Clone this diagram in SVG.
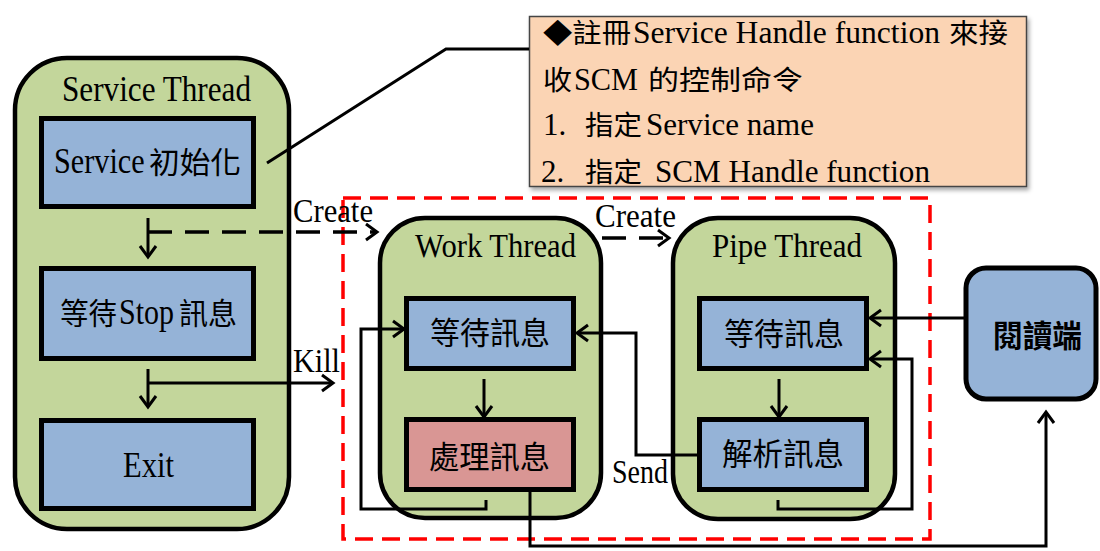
<svg xmlns="http://www.w3.org/2000/svg" width="1100" height="551" viewBox="0 0 1100 551">
  <style>
    .thread { fill: #C3D69B; stroke: #000; stroke-width: 4.5; }
    .box { fill: #95B3D7; stroke: #000; stroke-width: 5; }
    .proc { fill: #D99694; }
    .t { font-family: "Liberation Serif", serif; fill: #000; }
    .cjk { font-family: "Noto Sans CJK TC", "Noto Sans CJK SC", sans-serif; fill: #000; }
    .conn { fill: none; stroke: #000; stroke-width: 3; }
    .dash { stroke-dasharray: 24 13; stroke-width: 3.5; }
    .region { fill: none; stroke: #FF0000; stroke-width: 3.5; stroke-dasharray: 18 9; }
  </style>
  <defs>
    <marker id="arrow" markerUnits="userSpaceOnUse" markerWidth="20" markerHeight="20" refX="14" refY="10" orient="auto">
      <path d="M3,2 L14,10 L3,18" fill="none" stroke="#000" stroke-width="3"/>
    </marker>
    <filter id="shadow" x="-5%" y="-5%" width="110%" height="115%">
      <feDropShadow dx="2" dy="3" stdDeviation="2" flood-color="#000" flood-opacity="0.35"/>
    </filter>
  </defs>

  <!-- dashed boundary around the worker threads -->
  <rect class="region" x="343" y="198" width="587" height="341"/>

  <g id="service-thread">
    <rect class="thread" x="15" y="58" width="274" height="471" rx="52"/>
    <text class="t" x="62" y="101" font-size="36" textLength="189" lengthAdjust="spacingAndGlyphs">Service Thread</text>
  </g>
  <g id="service-init">
    <rect class="box" x="41.5" y="118.5" width="212" height="88"/>
    <text class="t" transform="translate(54,173) scale(0.84,1)" font-size="36">Service</text>
    <text class="cjk" x="149" y="173" font-size="30" textLength="92" lengthAdjust="spacingAndGlyphs">初始化</text>
  </g>
  <g id="service-wait-stop">
    <rect class="box" x="41.5" y="268.5" width="212" height="90"/>
    <text class="cjk" x="60" y="324" font-size="30" textLength="57" lengthAdjust="spacingAndGlyphs">等待</text>
    <text class="t" x="119" y="324" font-size="36" textLength="55" lengthAdjust="spacingAndGlyphs">Stop</text>
    <text class="cjk" x="179" y="324" font-size="30" textLength="58" lengthAdjust="spacingAndGlyphs">訊息</text>
  </g>
  <g id="service-exit">
    <rect class="box" x="41.5" y="420.5" width="212" height="88"/>
    <text class="t" x="123" y="477" font-size="36" textLength="51" lengthAdjust="spacingAndGlyphs">Exit</text>
  </g>

  <g id="work-thread">
    <rect class="thread" x="380" y="218" width="221" height="300" rx="45"/>
    <text class="t" x="415" y="257" font-size="34" textLength="161" lengthAdjust="spacingAndGlyphs">Work Thread</text>
  </g>
  <g id="work-wait">
    <rect class="box" x="406.5" y="298.5" width="167" height="70"/>
    <text class="cjk" x="430" y="344" font-size="31" textLength="120" lengthAdjust="spacingAndGlyphs">等待訊息</text>
  </g>
  <g id="work-process">
    <rect class="box proc" x="406.5" y="419.5" width="167" height="70"/>
    <text class="cjk" x="429" y="468" font-size="31" textLength="121" lengthAdjust="spacingAndGlyphs">處理訊息</text>
  </g>

  <g id="pipe-thread">
    <rect class="thread" x="673" y="218" width="222" height="301" rx="45"/>
    <text class="t" x="712" y="257" font-size="34" textLength="150" lengthAdjust="spacingAndGlyphs">Pipe Thread</text>
  </g>
  <g id="pipe-wait">
    <rect class="box" x="699.5" y="298.5" width="167" height="70"/>
    <text class="cjk" x="724" y="345" font-size="31" textLength="120" lengthAdjust="spacingAndGlyphs">等待訊息</text>
  </g>
  <g id="pipe-parse">
    <rect class="box" x="699.5" y="419.5" width="167" height="70"/>
    <text class="cjk" x="722" y="465" font-size="31" textLength="122" lengthAdjust="spacingAndGlyphs">解析訊息</text>
  </g>

  <g id="reader">
    <rect class="box" x="966" y="268" width="130" height="131" rx="20"/>
    <text class="cjk" x="993" y="347" font-size="31" font-weight="bold" textLength="89" lengthAdjust="spacingAndGlyphs">閱讀端</text>
  </g>

  <g id="note">
    <rect x="529.5" y="16.5" width="497" height="170" fill="#FBD4B4" stroke="#444" stroke-width="1.5" filter="url(#shadow)"/>
    <text class="cjk" x="543" y="43" font-size="27" textLength="88" lengthAdjust="spacingAndGlyphs">◆註冊</text>
    <text class="t" x="633" y="43" font-size="31" textLength="307" lengthAdjust="spacingAndGlyphs">Service Handle function</text>
    <text class="cjk" x="949" y="43" font-size="27" textLength="59" lengthAdjust="spacingAndGlyphs">來接</text>
    <text class="cjk" x="543" y="90" font-size="27" textLength="29" lengthAdjust="spacingAndGlyphs">收</text>
    <text class="t" x="574" y="90" font-size="31" textLength="64" lengthAdjust="spacingAndGlyphs">SCM</text>
    <text class="cjk" x="648" y="90" font-size="27" textLength="155" lengthAdjust="spacingAndGlyphs">的控制命令</text>
    <text class="t" x="543" y="135" font-size="31">1.</text>
    <text class="cjk" x="585" y="135" font-size="27" textLength="57" lengthAdjust="spacingAndGlyphs">指定</text>
    <text class="t" x="646" y="135" font-size="31" textLength="168" lengthAdjust="spacingAndGlyphs">Service name</text>
    <text class="t" x="541" y="182" font-size="31">2.</text>
    <text class="cjk" x="585" y="182" font-size="27" textLength="57" lengthAdjust="spacingAndGlyphs">指定</text>
    <text class="t" x="655" y="182" font-size="31" textLength="275" lengthAdjust="spacingAndGlyphs">SCM Handle function</text>
  </g>

  <g id="connectors">
    <path class="conn" d="M267,163 L446,49 H529" stroke="#333" stroke-width="1.5"/>
    <path class="conn" d="M148,218 V257" marker-end="url(#arrow)"/>
    <path class="conn dash" d="M148,232 H377" marker-end="url(#arrow)"/>
    <path class="conn" d="M148,369 V407" marker-end="url(#arrow)"/>
    <path class="conn" d="M148,383 H333" marker-end="url(#arrow)"/>
    <path class="conn dash" d="M602,238 H669" marker-end="url(#arrow)"/>
    <path class="conn" d="M484,379 V417" marker-end="url(#arrow)"/>
    <path class="conn" d="M486,500 V509 H361 V329 H404" marker-end="url(#arrow)"/>
    <path class="conn" d="M697,455 H636 V333 H577" marker-end="url(#arrow)"/>
    <path class="conn" d="M779,379 V417" marker-end="url(#arrow)"/>
    <path class="conn" d="M778,500 V509 H912 V359 H870" marker-end="url(#arrow)"/>
    <path class="conn" d="M964,318 H870" marker-end="url(#arrow)"/>
    <path class="conn" d="M530,492 V546 H1046 V412" marker-end="url(#arrow)"/>
  </g>

  <g id="labels">
    <text class="t" x="293" y="222" font-size="34" textLength="80" lengthAdjust="spacingAndGlyphs">Create</text>
    <text class="t" x="293" y="372" font-size="33" textLength="47" lengthAdjust="spacingAndGlyphs">Kill</text>
    <text class="t" x="595" y="227" font-size="34" textLength="81" lengthAdjust="spacingAndGlyphs">Create</text>
    <text class="t" x="612" y="483" font-size="33" textLength="56" lengthAdjust="spacingAndGlyphs">Send</text>
  </g>
</svg>
